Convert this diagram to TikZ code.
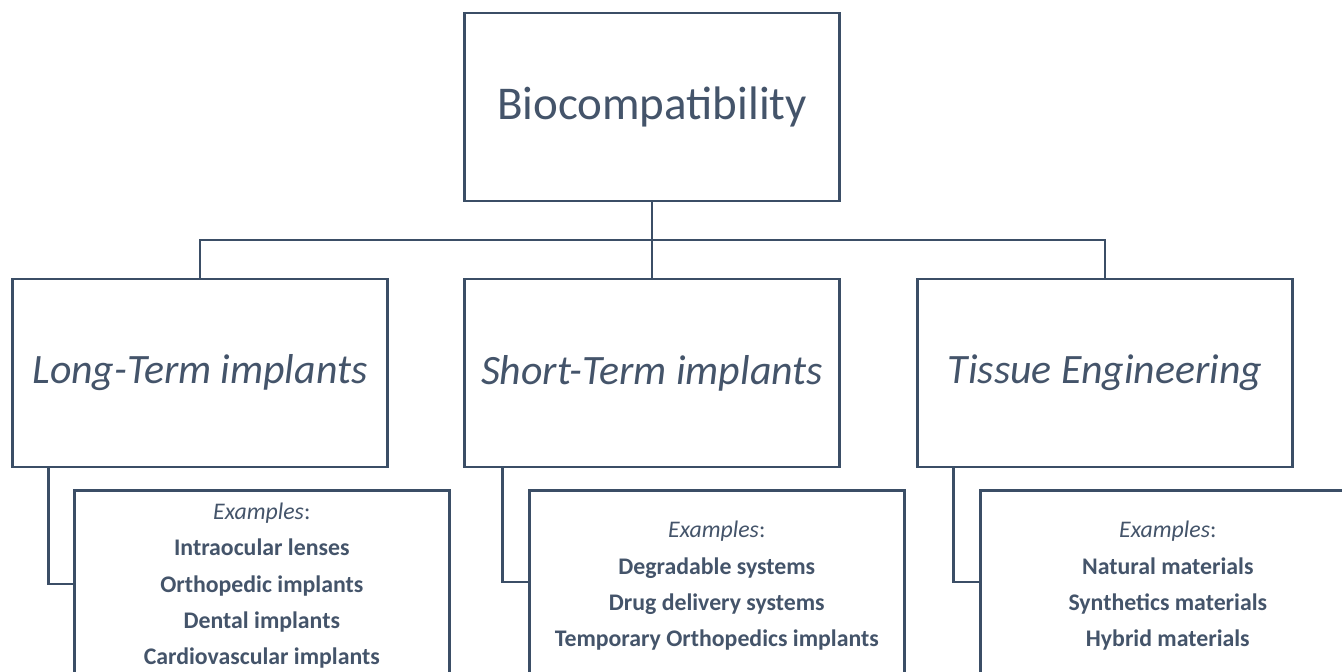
\documentclass[tikz,border=0pt]{standalone}
\usepackage{fontspec}
\setmainfont{Carlito}
\usetikzlibrary{calc}
\definecolor{inktext}{HTML}{44546A}
\definecolor{inkline}{HTML}{3B4E66}
\begin{document}
\begin{tikzpicture}[x=1pt,y=-1pt,
  box/.style={draw=inkline, line width=2.6pt, rectangle, inner sep=0pt,
    minimum width=375pt, text=inktext, align=center},
  rootbox/.style={box, minimum height=188pt, font=\fontsize{47}{52}\selectfont},
  catbox/.style={box, minimum height=188pt, font=\fontsize{41.8}{48}\selectfont\itshape},
  exbox/.style={box, minimum height=191pt, anchor=north west,
    font=\fontsize{23.8}{36.3}\selectfont},
  link/.style={draw=inkline, line width=2.6pt}]
\path[use as bounding box, clip] (0,0) rectangle (1342,672);
\fill[white] (0,0) rectangle (1342,672);

% root and the three categories
\node[rootbox] (root) at (652,107) {Biocompatibility};
\node[catbox] (lt) at (200,373) {Long-Term implants};
\node[catbox] (st) at (652,373) {Short-Term implants};
\node[catbox] (te) at (1105,373) {Tissue Engineering};

% example lists
\node[exbox] (ltx) at (73,489) {\textit{Examples}:\\\textbf{Intraocular lenses}\\\textbf{Orthopedic implants}\\\textbf{Dental implants}\\\textbf{Cardiovascular implants}};
\node[exbox] (stx) at (528,489) {\textit{Examples}:\\\textbf{Degradable systems}\\\textbf{Drug delivery systems}\\\textbf{Temporary Orthopedics implants}};
\node[exbox] (tex) at (979,489) {\textit{Examples}:\\\textbf{Natural materials}\\\textbf{Synthetics materials}\\\textbf{Hybrid materials}};

% tree connectors
\coordinate (bus) at (652,240);
\draw[link] (root.south) -- (st.north);
\draw[link] (lt.north) |- (bus) -| (te.north);

% elbow connectors to the example lists
\draw[link] ($(lt.south west)+(37,0)$) |- ($(ltx.north west)+(0,95)$);
\draw[link] ($(st.south west)+(39,0)$) |- ($(stx.north west)+(0,93)$);
\draw[link] ($(te.south west)+(37,0)$) |- ($(tex.north west)+(0,93)$);
\end{tikzpicture}
\end{document}
